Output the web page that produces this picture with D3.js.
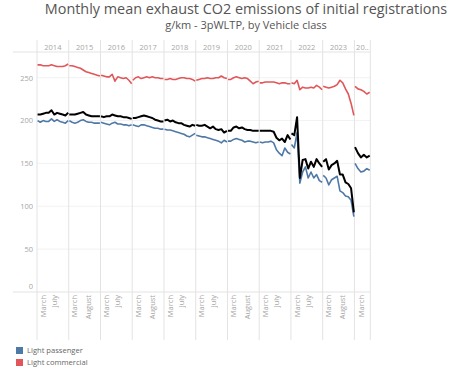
<!DOCTYPE html>
<html>
<head>
<meta charset="utf-8">
<script src="https://cdn.jsdelivr.net/npm/d3@7"></script>
<style>
  body { margin: 0; background: #fff; }
  text { font-family: 'Open Sans', sans-serif; }
</style>
</head>
<body>
<div id="chart"></div>
<script>
const years = [2014, 2015, 2016, 2017, 2018, 2019, 2020, 2021, 2022, 2023, 2024];
const yearLabels = ['2014', '2015', '2016', '2017', '2018', '2019', '2020', '2021', '2022', '2023', '20..'];
const monthCounts = [12, 12, 12, 12, 12, 12, 12, 12, 12, 12, 6];
const monthNames = ['January', 'February', 'March', 'April', 'May', 'June', 'July', 'August', 'September', 'October', 'November', 'December'];
// month labels Tableau kept on the axis (1 = January)
const tickMonths = [[3, 7], [3, 8], [3, 7], [3, 8], [3, 7], [3, 7], [3, 8], [3, 7], [3, 7], [3, 8], [3]];
const yTicks = [0, 50, 100, 150, 200, 250];

const passenger = [
  [200, 198, 200, 199, 199, 202, 199, 201, 199, 198, 197, 200],
  [200, 198, 197, 198, 200, 201, 199, 198, 198, 197, 197, 197],
  [198, 197, 196, 195, 197, 198, 196, 196, 195, 195, 194, 195],
  [195, 194, 193, 195, 195, 194, 193, 192, 191, 191, 190, 190],
  [190, 189, 189, 188, 187, 186, 185, 184, 182, 181, 183, 185],
  [183, 182, 181, 181, 180, 179, 178, 177, 176, 174, 177, 175],
  [176, 176, 178, 179, 178, 177, 175, 176, 176, 175, 174, 175],
  [175, 174, 175, 175, 176, 174, 166, 162, 159, 168, 163, 161],
  [172, 168, 186, 127, 140, 146, 133, 140, 133, 137, 130, 128],
  [136, 133, 125, 131, 133, 135, 118, 116, 112, 111, 107, 88],
  [150, 144, 140, 141, 144, 142]
];
const commercial = [
  [265, 265, 264, 264, 264, 265, 264, 263, 263, 263, 264, 266],
  [264, 264, 263, 262, 261, 259, 257, 256, 255, 254, 253, 252],
  [253, 252, 251, 251, 254, 246, 251, 250, 249, 250, 247, 243],
  [247, 250, 251, 249, 250, 251, 250, 251, 250, 250, 249, 249],
  [248, 248, 249, 248, 248, 249, 250, 250, 249, 249, 248, 246],
  [247, 248, 249, 249, 250, 249, 249, 250, 250, 252, 250, 249],
  [248, 248, 250, 251, 250, 249, 250, 249, 246, 243, 245, 246],
  [244, 244, 245, 245, 245, 245, 244, 243, 244, 244, 243, 243],
  [244, 243, 247, 236, 239, 238, 238, 239, 238, 241, 239, 236],
  [240, 239, 238, 239, 240, 242, 247, 244, 237, 231, 220, 206],
  [240, 237, 236, 234, 231, 233]
];
const allVehicles = [
  [207, 207, 208, 209, 209, 212, 207, 209, 208, 207, 206, 209],
  [207, 207, 207, 208, 209, 210, 207, 206, 205, 205, 205, 205],
  [205, 204, 205, 205, 207, 206, 205, 205, 204, 204, 203, 202],
  [203, 203, 204, 205, 206, 205, 204, 203, 201, 200, 199, 199],
  [200, 201, 199, 200, 198, 197, 197, 195, 194, 193, 195, 194],
  [195, 194, 194, 195, 193, 191, 193, 190, 189, 190, 186, 188],
  [188, 188, 192, 193, 191, 192, 190, 189, 189, 188, 188, 188],
  [188, 188, 188, 188, 188, 187, 180, 177, 179, 175, 183, 178],
  [185, 183, 204, 133, 154, 155, 144, 152, 146, 155, 150, 146],
  [152, 155, 143, 148, 150, 153, 137, 137, 128, 126, 121, 93],
  [169, 162, 157, 160, 157, 159]
];

const series = [
  {name: 'Light passenger', values: passenger, color: '#4e79a7', width: 1.6, legend: true},
  {name: 'Light commercial', values: commercial, color: '#e15759', width: 1.6, legend: true},
  {name: 'All', values: allVehicles, color: '#000000', width: 2, legend: false}
];

const w = 460;
const h = 372;
const plotLeft = 37;
const plotRight = 370.3;
const plotTop = 52;
const plotBottom = 292;
const gridCol = '#e3e3e3';
const labelCol = '#a6a6a6';

const svg = d3.select('#chart')
  .append('svg')
  .attr('width', w)
  .attr('height', h);

//Title
svg.append('text')
  .attr('x', 246).attr('y', 14)
  .attr('text-anchor', 'middle')
  .style('font-size', '14.4px').style('fill', '#555')
  .text('Monthly mean exhaust CO2 emissions of initial registrations');

svg.append('text')
  .attr('x', 246).attr('y', 29)
  .attr('text-anchor', 'middle')
  .style('font-size', '11px').style('fill', '#555')
  .text('g/km - 3pWLTP, by Vehicle class');

//Scales
const totalMonths = d3.sum(monthCounts);
const monthScale = d3.scaleLinear().domain([0, totalMonths]).range([plotLeft, plotRight]);
const starts = d3.cumsum([0].concat(monthCounts.slice(0, -1)));
const panes = years.map((y, i) => {
  const x0 = monthScale(starts[i]);
  const x1 = monthScale(starts[i] + monthCounts[i]);
  const xm = d3.scalePoint()
    .domain(d3.range(1, monthCounts[i] + 1))
    .range([x0, x1])
    .padding(0.2);
  return {year: y, label: yearLabels[i], x0: x0, x1: x1, xm: xm, ticks: tickMonths[i]};
});

const yScale = d3.scaleLinear().domain([0, 280]).range([plotBottom, plotTop]);

//Grid lines
svg.append('g')
  .selectAll('line')
  .data(yTicks.filter(d => d > 0))
  .enter()
  .append('line')
  .attr('x1', plotLeft).attr('x2', plotRight)
  .attr('y1', d => yScale(d)).attr('y2', d => yScale(d))
  .style('stroke', '#f2f2f2');

//Pane borders
const edges = panes.map(p => p.x0).concat([plotRight]);
svg.append('g')
  .selectAll('line')
  .data(edges)
  .enter()
  .append('line')
  .attr('x1', d => d).attr('x2', d => d)
  .attr('y1', 40).attr('y2', 340)
  .style('stroke', gridCol);

svg.append('line')
  .attr('x1', 13).attr('x2', plotRight)
  .attr('y1', plotTop).attr('y2', plotTop)
  .style('stroke', gridCol);

svg.append('line')
  .attr('x1', 13).attr('x2', plotRight)
  .attr('y1', plotBottom).attr('y2', plotBottom)
  .style('stroke', gridCol);

//Year header
svg.append('g')
  .selectAll('text')
  .data(panes)
  .enter()
  .append('text')
  .attr('x', d => d.label.length > 4 ? d.x0 + 1.5 : (d.x0 + d.x1) / 2)
  .attr('y', 49.5)
  .attr('text-anchor', d => d.label.length > 4 ? 'start' : 'middle')
  .style('font-size', '7.5px').style('fill', labelCol)
  .text(d => d.label);

//Y axis
const yAxis = d3.axisLeft(yScale).tickValues(yTicks).tickSize(0).tickPadding(4);
const yG = svg.append('g')
  .attr('transform', `translate(${plotLeft}, 0)`)
  .call(yAxis);
yG.select('.domain').remove();
yG.selectAll('text')
  .style('font-size', '7.5px').style('fill', labelCol)
  .style('font-family', "'Open Sans', sans-serif")
  .attr('dy', d => d === 0 ? '-0.45em' : '0.32em');

//Month labels
panes.forEach(p => {
  svg.append('g')
    .selectAll('text')
    .data(p.ticks)
    .enter()
    .append('text')
    .attr('transform', d => `translate(${p.xm(d)}, 295) rotate(-90)`)
    .attr('dy', '0.35em')
    .attr('text-anchor', 'end')
    .style('font-size', '7.5px').style('fill', labelCol)
    .text(d => monthNames[d - 1]);
});

//Lines, one piece per year pane
const line = d3.line()
  .x(d => d.x)
  .y(d => yScale(d.v));

series.forEach(s => {
  svg.append('g')
    .selectAll('path')
    .data(panes.map((p, i) => s.values[i].map((v, m) => ({x: p.xm(m + 1), v: v}))))
    .enter()
    .append('path')
    .attr('d', line)
    .style('fill', 'none')
    .style('stroke', s.color)
    .style('stroke-width', s.width)
    .style('stroke-linejoin', 'round');
});

//Legend
const legend = svg.append('g')
  .selectAll('g')
  .data(series.filter(s => s.legend))
  .enter()
  .append('g')
  .attr('transform', (d, i) => `translate(16, ${347 + i * 12})`);

legend.append('rect')
  .attr('width', 7).attr('height', 7)
  .style('fill', d => d.color);

legend.append('text')
  .attr('x', 11).attr('y', 6.3)
  .style('font-size', '7.6px').style('fill', '#666')
  .text(d => d.name);
</script>
</body>
</html>
